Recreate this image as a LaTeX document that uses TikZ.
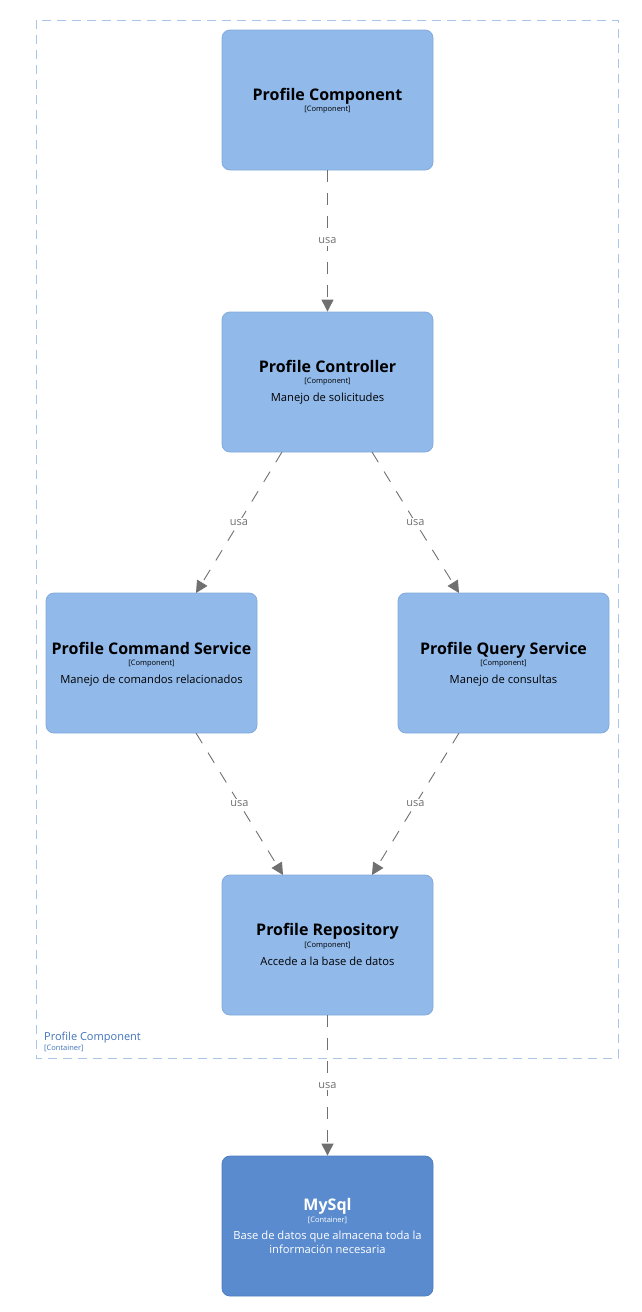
\documentclass[tikz,border=0pt]{standalone}
\usepackage{fontspec}
\setmainfont{Open Sans}
\usetikzlibrary{arrows.meta}
\definecolor{compfill}{HTML}{91B9EA}
\definecolor{compdraw}{HTML}{82AADB}
\definecolor{dbfill}{HTML}{5A8BCF}
\definecolor{dbdraw}{HTML}{4F7EC0}
\definecolor{bndcol}{HTML}{A9C6EA}
\definecolor{bndtext}{HTML}{3F72BA}
\definecolor{relcol}{HTML}{707070}
\tikzset{
  comp/.style={draw=compdraw, fill=compfill, rounded corners=8pt, minimum width=211pt, minimum height=140pt, inner sep=0pt, line width=0.8pt},
  db/.style={draw=dbdraw, fill=dbfill, rounded corners=8pt, minimum width=211pt, minimum height=140pt, inner sep=0pt, line width=0.8pt},
  rel/.style={draw=relcol, line width=0.9pt, dash pattern=on 12pt off 11pt, -{Triangle[width=12pt,length=12pt]}},
  rellbl/.style={fill=white, text=relcol, font=\fontsize{11}{13}\selectfont, inner sep=1.5pt},
  ttl/.style={anchor=base, inner sep=0pt, font=\fontsize{16}{18}\selectfont\bfseries},
  tech/.style={anchor=base, inner sep=0pt, font=\fontsize{7.5}{9}\selectfont},
  dsc/.style={anchor=base, inner sep=0pt, font=\fontsize{11.2}{13}\selectfont},
}
\begin{document}
\begin{tikzpicture}[x=1pt,y=-1pt]
\useasboundingbox (0,0) rectangle (642,1312);
% boundary
\draw[bndcol, line width=0.9pt, dash pattern=on 9pt off 6pt] (36,20) rectangle (618,1058);
\node[anchor=base west, inner sep=0pt, text=bndtext, font=\fontsize{11}{13}\selectfont] (blbl) at (44,1040) {Profile Component};
\node[anchor=base west, inner sep=0pt, text=bndtext, font=\fontsize{7.5}{9}\selectfont] (btech) at (44,1050.7) {[Container]};
% nodes
\node[comp] (pc) at (327.5,100) {};
\node[ttl] at (327.5,100) {Profile Component};
\node[tech] at (327.5,111.7) {[Component]};
\node[comp] (ctrl) at (327.5,382) {};
\node[ttl] at (327.5,372) {Profile Controller};
\node[tech] at (327.5,383.7) {[Component]};
\node[dsc] at (327.5,401) {Manejo de solicitudes};
\node[comp] (cmd) at (151.5,663) {};
\node[ttl] at (151.5,654) {Profile Command Service};
\node[tech] at (151.5,665.7) {[Component]};
\node[dsc] at (151.5,683) {Manejo de comandos relacionados};
\node[comp] (qry) at (503.5,663) {};
\node[ttl] at (503.5,654) {Profile Query Service};
\node[tech] at (503.5,665.7) {[Component]};
\node[dsc] at (503.5,683) {Manejo de consultas};
\node[comp] (repo) at (327.5,945) {};
\node[ttl] at (327.5,935) {Profile Repository};
\node[tech] at (327.5,947.7) {[Component]};
\node[dsc] at (327.5,965) {Accede a la base de datos};
\node[db] (mysql) at (327.5,1226) {};
\node[ttl, text=white] at (327.5,1210) {MySql};
\node[tech, text=white] at (327.5,1222.7) {[Container]};
\node[dsc, text=white] at (327.5,1239) {Base de datos que almacena toda la};
\node[dsc, text=white] at (327.5,1253) {información necesaria};
% coordinates for connector ends
\coordinate (c1) at (282,452);
\coordinate (c2) at (372,452);
\coordinate (m1) at (196,593);
\coordinate (q1) at (459,593);
\coordinate (m2) at (196,733);
\coordinate (q2) at (459,733);
\coordinate (r1) at (283,875);
\coordinate (r2) at (372,875);
% connectors
\draw[rel] (pc.south) -- node[rellbl]{usa} (ctrl.north);
\draw[rel] (c1) -- node[rellbl]{usa} (m1);
\draw[rel] (c2) -- node[rellbl]{usa} (q1);
\draw[rel] (m2) -- node[rellbl]{usa} (r1);
\draw[rel] (q2) -- node[rellbl]{usa} (r2);
\draw[rel] (repo.south) -- node[rellbl]{usa} (mysql.north);
\end{tikzpicture}
\end{document}
